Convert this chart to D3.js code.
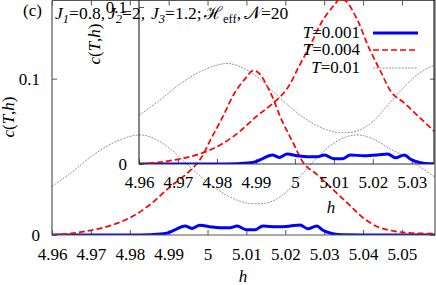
<!DOCTYPE html>
<html>
<head>
<meta charset="utf-8">
<script src="https://cdn.jsdelivr.net/npm/d3@7/dist/d3.min.js"></script>
<style>
  body { margin: 0; background: #fff; }
  svg { display: block; font-family: "Liberation Serif", "DejaVu Serif", serif; }
  .axis text { font-size: 17px; fill: #000; font-family: "Liberation Serif", serif; }
</style>
</head>
<body>
<script>
// field h values (x) and specific heat c(T,h)
const hBlue   = [4.96, 4.98, 4.985, 4.988, 4.99, 4.992, 4.9942, 4.996, 4.998, 5.0006, 5.0032, 5.0058, 5.0076, 5.0101, 5.0122, 5.0142, 5.0178, 5.0212, 5.0238, 5.0258, 5.0281, 5.0297, 5.0322, 5.0348, 5.04, 5.0585];
const cBlue   = [0, 0, 0.0002, 0.0006, 0.0015, 0.0038, 0.0058, 0.0042, 0.0063, 0.0053, 0.0046, 0.0046, 0.0057, 0.0033, 0.0033, 0.0058, 0.0052, 0.0057, 0.0064, 0.004, 0.0058, 0.003, 0.0008, 0.0001, 0, 0];

const hRed    = [4.96, 4.965, 4.97, 4.975, 4.98, 4.985, 4.99, 4.995, 4.998, 5.001, 5.004, 5.007, 5.01, 5.0115, 5.013, 5.016, 5.019, 5.022, 5.025, 5.028, 5.031, 5.034, 5.037, 5.04, 5.044, 5.048, 5.052, 5.0585];
const cRed    = [0, 0.001, 0.003, 0.006, 0.011, 0.019, 0.03, 0.04, 0.048, 0.062, 0.076, 0.091, 0.101, 0.105, 0.104, 0.092, 0.074, 0.059, 0.045, 0.039, 0.032, 0.025, 0.018, 0.011, 0.005, 0.0025, 0.0013, 0.0008];

const hGray   = [4.96, 4.965, 4.97, 4.975, 4.98, 4.983, 4.986, 4.99, 4.994, 4.998, 5.002, 5.006, 5.01, 5.013, 5.016, 5.02, 5.024, 5.028, 5.032, 5.036, 5.039, 5.043, 5.047, 5.051, 5.055, 5.0585];
const cGray   = [0.031, 0.04, 0.05, 0.058, 0.063, 0.064, 0.062, 0.056, 0.047, 0.038, 0.03, 0.024, 0.0205, 0.02, 0.021, 0.027, 0.038, 0.049, 0.058, 0.063, 0.064, 0.061, 0.055, 0.05, 0.043, 0.037];

const legendLabels = ["0.001", "0.004", "0.01"];
const xTicksMain = [4.96, 4.97, 4.98, 4.99, 5.0, 5.01, 5.02, 5.03, 5.04, 5.05];
const xTicksInset = [4.96, 4.97, 4.98, 4.99, 5.0, 5.01, 5.02, 5.03];
const yTicks = [0, 0.1];

const W = 436, H = 285;
const svg = d3.select("body").append("svg").attr("width", W).attr("height", H);

// main panel
const xMain = d3.scaleLinear().domain([4.96, 5.0585]).range([52, 435]);
const yMain = d3.scaleLinear().domain([0, 0.15]).range([235, 0.5]);
// inset panel (its top lies above the picture)
const xIn = d3.scaleLinear().domain([4.96, 5.0357]).range([139, 434]);
const yIn = d3.scaleLinear().domain([0, 0.1045]).range([164, 0]);

const series = [
  {h: hBlue, c: cBlue, color: "#0000ff", width: 3, dash: null, curve: d3.curveMonotoneX},
  {h: hRed, c: cRed, color: "#ff0000", width: 1.7, dash: "6,3", curve: d3.curveCatmullRom},
  {h: hGray, c: cGray, color: "#666", width: 0.7, dash: "2,1.2", curve: d3.curveCatmullRom}
];

const defs = svg.append("defs");
defs.append("clipPath").attr("id", "clipMain").append("rect")
  .attr("x", 52).attr("y", 0).attr("width", 383).attr("height", 235);
defs.append("clipPath").attr("id", "clipIn").append("rect")
  .attr("x", 139).attr("y", 0).attr("width", 295).attr("height", 164);

const fmt = d => String(+d.toFixed(2));

function drawPanel(xs, ys, xTicks, clipId, xPad, frameColor, mirror) {
  const [x0, x1] = xs.range();
  const [y0, y1] = ys.range();

  if (mirror) {
    svg.append("g").attr("class", "axis").attr("transform", `translate(0,${y1})`)
      .call(d3.axisTop(xs).tickValues(xTicks).tickSize(-5).tickFormat(""))
      .call(g => g.select(".domain").remove());
    svg.append("g").attr("class", "axis").attr("transform", `translate(${x1},0)`)
      .call(d3.axisRight(ys).tickValues(yTicks).tickSize(-5).tickFormat(""))
      .call(g => g.select(".domain").remove());
  }

  svg.append("g").attr("class", "axis").attr("transform", `translate(0,${y0})`)
    .call(d3.axisBottom(xs).tickValues(xTicks).tickSize(-5).tickPadding(xPad).tickFormat(fmt))
    .call(g => g.select(".domain").remove());
  svg.append("g").attr("class", "axis").attr("transform", `translate(${x0},0)`)
    .call(d3.axisLeft(ys).tickValues(yTicks).tickSize(-5).tickPadding(12).tickFormat(d => d === 0 ? "0" : String(d)))
    .call(g => g.select(".domain").remove());

  svg.selectAll(".axis line").attr("stroke", "#555");

  // curves
  const g = svg.append("g").attr("clip-path", `url(#${clipId})`);
  series.forEach(s => {
    const pts = s.h.map((h, i) => [h, s.c[i]]);
    g.append("path")
      .datum(pts)
      .attr("fill", "none")
      .attr("stroke", s.color)
      .attr("stroke-width", s.width)
      .attr("stroke-dasharray", s.dash)
      .attr("d", d3.line().x(d => xs(d[0])).y(d => ys(d[1])).curve(s.curve));
  });

  // border
  const border = mirror
    ? [[x0, y1], [x0, y0], [x1, y0], [x1, y1], [x0, y1]]
    : [[x0, y1], [x0, y0], [x1, y0], [x1, y1]];
  svg.append("path")
    .attr("d", d3.line()(border))
    .attr("fill", "none").attr("stroke", frameColor).attr("stroke-width", 1.2);
}

drawPanel(xMain, yMain, xTicksMain, "clipMain", 13, "#555", true);
drawPanel(xIn, yIn, xTicksInset, "clipIn", 12, "#333", false);

// axis titles
svg.append("text").attr("x", 243).attr("y", 282).attr("text-anchor", "middle")
  .attr("font-size", 17).attr("font-style", "italic").text("h");
svg.append("text").attr("x", 331).attr("y", 213).attr("text-anchor", "middle")
  .attr("font-size", 17).attr("font-style", "italic").text("h");

function yTitle(cx, cy) {
  const t = svg.append("text").attr("transform", `translate(${cx},${cy}) rotate(-90)`)
    .attr("text-anchor", "middle").attr("dy", "0.32em").attr("font-size", 17);
  t.append("tspan").attr("font-style", "italic").text("c");
  t.append("tspan").text("(");
  t.append("tspan").attr("font-style", "italic").text("T");
  t.append("tspan").text(",");
  t.append("tspan").attr("font-style", "italic").text("h");
  t.append("tspan").text(")");
}
yTitle(9, 117);
yTitle(95, 44);

svg.append("text").attr("x", 23).attr("y", 16).attr("font-size", 17).text("(c)");

// parameters line, each group placed where it sits in the picture
const titleGroups = [
  {x: 55, sym: "J", italic: true, sub: "1", rest: "=0.8,"},
  {x: 108, sym: "J", italic: true, sub: "2", rest: "=2,"},
  {x: 151, sym: "J", italic: true, sub: "3", rest: "=1.2;"},
  {x: 204, sym: "\u210B", italic: false, sub: "eff", rest: ","},
  {x: 244, sym: "\uD835\uDCA9", italic: false, sub: null, rest: "=20"}
];
titleGroups.forEach(gr => {
  const t = svg.append("text").attr("x", gr.x).attr("y", 19).attr("font-size", 17.5);
  const s = t.append("tspan").text(gr.sym);
  if (gr.italic) s.attr("font-style", "italic");
  if (gr.sub) {
    const sb = t.append("tspan").attr("dy", 4).attr("font-size", 12.5).text(gr.sub);
    if (gr.italic) sb.attr("font-style", "italic");
    t.append("tspan").attr("dy", -4).text(gr.rest);
  } else {
    t.append("tspan").text(gr.rest);
  }
});

// legend
const legY = [33, 50, 68];
series.forEach((s, i) => {
  const t = svg.append("text").attr("x", 360).attr("y", legY[i]).attr("dy", "0.32em")
    .attr("text-anchor", "end").attr("font-size", 17);
  t.append("tspan").attr("font-style", "italic").text("T");
  t.append("tspan").text("=" + legendLabels[i]);
  svg.append("line").attr("x1", 373).attr("x2", 418).attr("y1", legY[i]).attr("y2", legY[i])
    .attr("stroke", s.color).attr("stroke-width", s.width).attr("stroke-dasharray", s.dash);
});
</script>
</body>
</html>
